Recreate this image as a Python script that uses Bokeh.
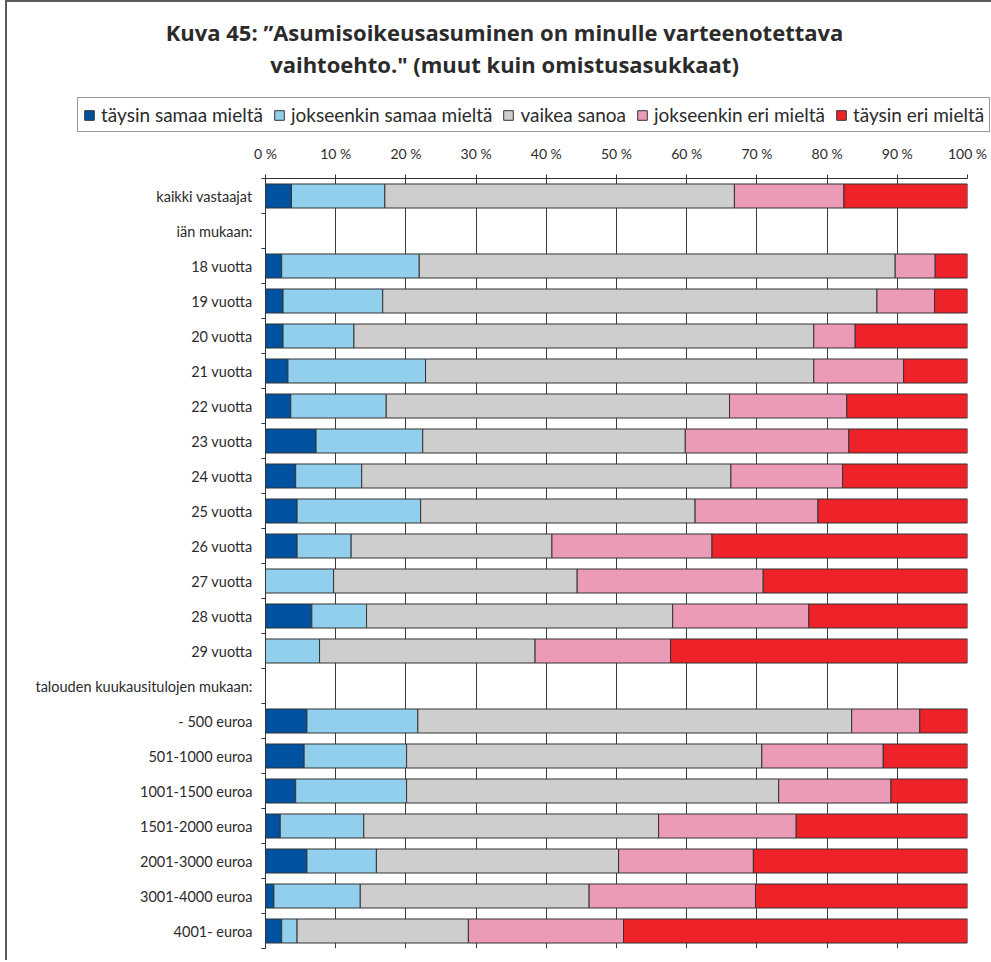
from bokeh.plotting import figure
from bokeh.layouts import column
from bokeh.models import (ColumnDataSource, Range1d, FixedTicker, Legend, LegendItem, Label)
from bokeh.embed import file_html
from bokeh.resources import INLINE

# ---- data ----
rows = ["kaikki vastaajat", "iän mukaan:", "18 vuotta", "19 vuotta", "20 vuotta", "21 vuotta",
        "22 vuotta", "23 vuotta", "24 vuotta", "25 vuotta", "26 vuotta", "27 vuotta",
        "28 vuotta", "29 vuotta", "talouden kuukausitulojen mukaan:", "- 500 euroa",
        "501-1000 euroa", "1001-1500 euroa", "1501-2000 euroa", "2001-3000 euroa",
        "3001-4000 euroa", "4001- euroa"]
header_rows = ["iän mukaan:", "talouden kuukausitulojen mukaan:"]
bar_rows = [r for r in rows if r not in header_rows]

series_names = ["täysin samaa mieltä", "jokseenkin samaa mieltä", "vaikea sanoa",
                "jokseenkin eri mieltä", "täysin eri mieltä"]
taysin_samaa = [3.7, 2.3, 2.5, 2.5, 3.2, 3.6, 7.2, 4.3, 4.5, 4.5, 0.0, 6.6, 0.0,
                5.9, 5.5, 4.3, 2.1, 5.9, 1.2, 2.3]
jokseenkin_samaa = [13.3, 19.6, 14.2, 10.1, 19.6, 13.6, 15.2, 9.4, 17.6, 7.7, 9.7, 7.8, 7.7,
                    15.8, 14.6, 15.8, 11.9, 9.9, 12.3, 2.2]
vaikea_sanoa = [49.8, 67.8, 70.4, 65.5, 55.3, 48.9, 37.4, 52.6, 39.1, 28.6, 34.7, 43.6, 30.7,
                61.8, 50.6, 53.0, 42.0, 34.5, 32.6, 24.4]
jokseenkin_eri = [15.6, 5.7, 8.2, 5.9, 12.8, 16.7, 23.3, 15.9, 17.5, 22.8, 26.5, 19.4, 19.3,
                  9.7, 17.3, 16.0, 19.6, 19.2, 23.7, 22.1]
taysin_eri = [17.6, 4.6, 4.7, 16.0, 9.1, 17.2, 16.9, 17.8, 21.3, 36.4, 29.1, 22.6, 42.3,
              6.8, 12.0, 10.9, 24.4, 30.5, 30.2, 49.0]

x_ticks = [0, 10, 20, 30, 40, 50, 60, 70, 80, 90, 100]
x_tick_labels = ["0 %", "10 %", "20 %", "30 %", "40 %", "50 %", "60 %", "70 %", "80 %", "90 %", "100 %"]

title_line1 = "Kuva 45: ”Asumisoikeusasuminen on minulle varteenotettava"
title_line2 = "vaihtoehto.\" (muut kuin omistusasukkaat)"

colors = ["#0052A1", "#92CFEC", "#CECECE", "#EB9AB7", "#EE232A"]

FONT = "Lato"
TXT = "#2b2b2b"
LINE = "#333333"
NAN = float("nan")

# ---- header (title + legend) ----
HW, HH = 984, 134
header = figure(width=HW, height=HH, output_backend="svg", toolbar_location=None,
                x_range=Range1d(0, HW), y_range=Range1d(HH, 0),
                x_axis_type=None, y_axis_type=None, min_border=0)
header.frame_align = False
header.outline_line_color = None
header.grid.visible = False

for txt, yy in [(title_line1, 29.5), (title_line2, 61)]:
    header.add_layout(Label(x=497, y=yy, text=txt, text_align="center",
                            text_baseline="alphabetic", text_font="Open Sans",
                            text_font_style="bold", text_font_size="22px", text_color=TXT))

legend_renderers = [header.hbar(y=[NAN], right=[NAN], height=1, fill_color=c, line_color=LINE)
                    for c in colors]
legend = Legend(items=[LegendItem(label=n, renderers=[r]) for n, r in zip(series_names, legend_renderers)],
                orientation="horizontal", location=(70, 4),
                glyph_width=12, glyph_height=12, label_standoff=6, spacing=10,
                padding=5, margin=0, label_text_font=FONT, label_text_font_size="19px",
                label_text_color=TXT, border_line_color=LINE, border_line_width=1,
                background_fill_alpha=1.0, label_height=14)
header.add_layout(legend, "center")

# ---- main chart ----
keys = ["s0", "s1", "s2", "s3", "s4"]
data = dict(y=[rows.index(r) for r in bar_rows])
for k, vals in zip(keys, [taysin_samaa, jokseenkin_samaa, vaikea_sanoa, jokseenkin_eri, taysin_eri]):
    data[k] = vals
source = ColumnDataSource(data)

p = figure(width=984, height=824, output_backend="svg", toolbar_location=None,
           x_range=Range1d(0, 100), y_range=Range1d(len(rows) - 0.5, -0.5),
           x_axis_location="above", min_border_left=258, min_border_right=24,
           min_border_top=42, min_border_bottom=12)
p.frame_align = False
p.outline_line_color = None

p.hbar_stack(keys, y="y", height=0.686, color=colors, line_color=LINE,
             line_width=1, source=source)

xt = FixedTicker(ticks=x_ticks)
p.xaxis.ticker = xt
p.xaxis.major_label_overrides = {t: l for t, l in zip(x_ticks, x_tick_labels)}
p.xaxis.major_label_text_font = FONT
p.xaxis.major_label_text_font_size = "14px"
p.xaxis.major_label_text_color = TXT
p.xaxis.major_tick_out = 4
p.xaxis.major_tick_in = 0
p.xaxis.minor_tick_line_color = None
p.xaxis.axis_line_color = LINE
p.xaxis.major_tick_line_color = LINE
p.xaxis.major_label_standoff = 13

yt = FixedTicker(ticks=list(range(len(rows))),
                 minor_ticks=[i - 0.5 for i in range(len(rows) + 1)])
p.yaxis.ticker = yt
p.yaxis.major_label_overrides = {i: r for i, r in enumerate(rows)}
p.yaxis.major_label_text_font = FONT
p.yaxis.major_label_text_font_size = "14.5px"
p.yaxis.major_label_text_color = TXT
p.yaxis.major_tick_line_color = None
p.yaxis.major_tick_out = 4
p.yaxis.minor_tick_out = 4
p.yaxis.minor_tick_in = 0
p.yaxis.minor_tick_line_color = LINE
p.yaxis.axis_line_color = LINE
p.yaxis.major_label_standoff = 9

p.xgrid.ticker = xt
p.xgrid.grid_line_color = "#3c3c3c"
p.xgrid.grid_line_width = 1
p.ygrid.grid_line_color = None

layout = column(header, p, spacing=0,
                styles={"border-left": "2px solid #5a5a5a", "border-top": "2px solid #5a5a5a",
                        "margin-left": "5px"})

open("out.html", "w").write(file_html(layout, INLINE))
